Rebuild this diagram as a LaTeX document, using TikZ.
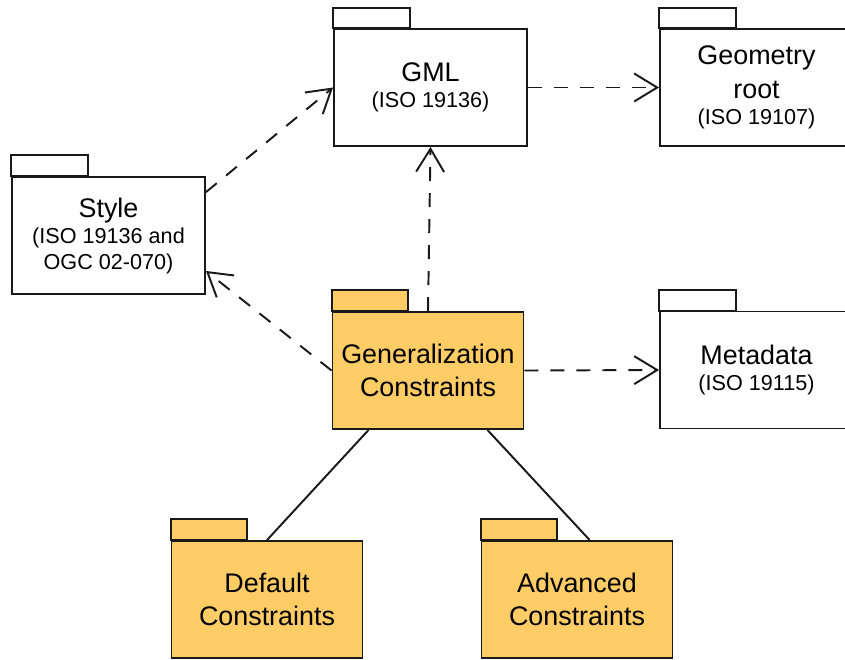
\documentclass[tikz,border=0pt]{standalone}
\usepackage{fontspec}
\setmainfont{Liberation Sans}
\usepackage{xcolor}
\usetikzlibrary{arrows.meta,positioning}

\definecolor{pkgyellow}{RGB}{255,204,102}
\definecolor{pkgline}{RGB}{25,25,25}
\newcommand{\isoref}[1]{{\fontsize{12.3}{14.8}\selectfont #1}}

\begin{document}
\begin{tikzpicture}[
    >={Straight Barb[length=4.6mm, width=5.6mm]},
    font=\fontsize{15.3}{18.5}\selectfont,
    pkg/.style={draw=pkgline, fill=white, line width=1.1pt, align=center,
                minimum width=3.86cm, minimum height=2.34cm, inner sep=2pt},
    pkgcore/.style={pkg, fill=pkgyellow, minimum width=3.82cm},
    tab/.style={draw=pkgline, fill=white, line width=1.1pt},
    coretab/.style={tab, fill=pkgyellow},
    dep/.style={->, line width=1.1pt, pkgline, dash pattern=on 0.28cm off 0.24cm},
    link/.style={line width=1.1pt, pkgline},
]
\useasboundingbox (0,0) rectangle (16.9,-13.18);
\clip (0,0) rectangle (16.9,-13.18);

% --- external packages ---
\node[pkg] (gml) at (8.61,-1.75)
  {GML\\[-3.7pt]\isoref{(ISO 19136)}};
\node[pkg] (geom) at (15.13,-1.75)
  {Geometry\\[1pt]root\\[-3.7pt]\isoref{(ISO 19107)}};
\node[pkg] (style) at (2.17,-4.71)
  {Style\\[-3.7pt]\isoref{(ISO 19136 and}\\[-3.7pt]\isoref{OGC 02-070)}};
\node[pkg] (meta) at (15.13,-7.40)
  {Metadata\\[-3.7pt]\isoref{(ISO 19115)}};

% --- constraint packages ---
\node[pkgcore] (gen) at (8.56,-7.41)
  {Generalization\\Constraints};
\node[pkgcore] (default) at (5.34,-11.99)
  {Default\\Constraints};
\node[pkgcore] (adv) at (11.54,-11.99)
  {Advanced\\Constraints};

% --- package tabs ---
\draw[tab] (gml.north west) rectangle ++(1.54,0.40);
\draw[tab] (geom.north west) rectangle ++(1.54,0.40);
\draw[tab] (style.north west) rectangle ++(1.54,0.42);
\draw[tab] (meta.north west) rectangle ++(1.54,0.42);
\draw[coretab] (gen.north west) rectangle ++(1.52,0.42);
\draw[coretab] (default.north west) rectangle ++(1.52,0.42);
\draw[coretab] (adv.north west) rectangle ++(1.52,0.42);

% --- dependencies ---
\draw[dep] (style.24) -- (gml.west);
\draw[dep] (gml.east) -- (geom.west);
\draw[dep] (gen.north) -- (gml.south);
\draw[dep] (gen.west) -- (style.-20);
\draw[dep] (gen.east) -- (meta.west);

% --- containment ---
\draw[link] (gen.-135) -- (default.north);
\draw[link] (gen.-45) -- (adv.78);
\end{tikzpicture}
\end{document}
